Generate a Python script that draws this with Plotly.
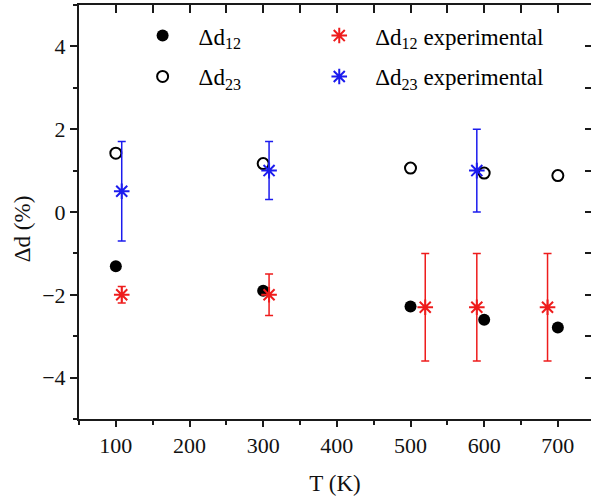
import plotly.graph_objects as go

# ---- data ----
T_calc = [100, 300, 500, 600, 700]
d12_calc = [-1.31, -1.90, -2.28, -2.60, -2.79]
d23_calc = [1.42, 1.17, 1.06, 0.94, 0.88]

T12_exp = [108, 308, 520, 590, 686]
d12_exp = [-2.0, -2.0, -2.3, -2.3, -2.3]
d12_err = [0.2, 0.5, 1.3, 1.3, 1.3]

T23_exp = [108, 308, 590]
d23_exp = [0.5, 1.0, 1.0]
d23_err = [1.2, 0.7, 1.0]

x_ticks = [100, 200, 300, 400, 500, 600, 700]
y_ticks = [-4, -2, 0, 2, 4]

FONT = "Liberation Serif, Times New Roman, serif"
AX = "#1a1a1a"
RED = "#ee1c1c"
BLUE = "#1c1cee"

fig = go.Figure()

fig.add_trace(go.Scatter(
    x=T_calc, y=d12_calc, mode="markers", name="Δd<sub>12</sub>",
    marker=dict(symbol="circle", size=12, color="black"),
    legend="legend", legendgroup="a"))
fig.add_trace(go.Scatter(
    x=T_calc, y=d23_calc, mode="markers", name="Δd<sub>23</sub>",
    marker=dict(symbol="circle-open", size=11, color="black", line=dict(width=2)),
    legend="legend", legendgroup="b"))
fig.add_trace(go.Scatter(
    x=T12_exp, y=d12_exp, mode="markers", name="Δd<sub>12</sub> experimental",
    marker=dict(symbol="asterisk-open", size=13, color=RED, line=dict(width=2, color=RED)),
    error_y=dict(type="data", array=d12_err, color=RED, thickness=1.5, width=4),
    legend="legend2", legendgroup="c"))
fig.add_trace(go.Scatter(
    x=T23_exp, y=d23_exp, mode="markers", name="Δd<sub>23</sub> experimental",
    marker=dict(symbol="asterisk-open", size=13, color=BLUE, line=dict(width=2, color=BLUE)),
    error_y=dict(type="data", array=d23_err, color=BLUE, thickness=1.5, width=4),
    legend="legend2", legendgroup="d"))

# invisible anchor trace for the mirrored (top/right) axes
fig.add_trace(go.Scatter(x=[None], y=[None], xaxis="x2", yaxis="y2",
                         showlegend=False, hoverinfo="skip"))

tickfont = dict(family=FONT, size=22, color="#111")
legfont = dict(family=FONT, size=23, color="black")

fig.update_layout(
    width=591, height=500,
    margin=dict(l=79, r=0, t=5, b=81),
    paper_bgcolor="white", plot_bgcolor="white",
    font=dict(family=FONT),
    showlegend=True,
    xaxis=dict(range=[50, 745], tickvals=x_ticks, ticks="outside", ticklen=6,
               tickwidth=1.5, tickcolor=AX, showline=True, linewidth=2, linecolor=AX,
               showgrid=False, zeroline=False, tickfont=tickfont,
               minor=dict(dtick=50, tick0=50, ticks="outside", ticklen=4,
                          tickwidth=1.5, tickcolor=AX, showgrid=False),
               title=dict(text="T (K)", font=dict(family=FONT, size=23, color="#111"),
                          standoff=17)),
    yaxis=dict(range=[-5, 5], tickvals=y_ticks, ticks="outside", ticklen=7,
               tickwidth=1.5, tickcolor=AX, showline=True, linewidth=2, linecolor=AX,
               showgrid=False, zeroline=False, tickfont=tickfont,
               minor=dict(dtick=1, tick0=-5, ticks="outside", ticklen=4,
                          tickwidth=1.5, tickcolor=AX, showgrid=False)),
    xaxis2=dict(overlaying="x", matches="x", side="top", anchor="y",
                tickvals=x_ticks, ticks="inside", ticklen=8, tickwidth=1.5, tickcolor=AX,
                showticklabels=False, showline=True, linewidth=2, linecolor=AX,
                showgrid=False, zeroline=False,
                minor=dict(dtick=50, tick0=50, ticks="inside", ticklen=8,
                           tickwidth=1.5, tickcolor=AX, showgrid=False)),
    yaxis2=dict(overlaying="y", matches="y", side="right", anchor="x",
                tickvals=y_ticks, ticks="inside", ticklen=6, tickwidth=1.5, tickcolor=AX,
                showticklabels=False, showline=False,
                showgrid=False, zeroline=False,
                minor=dict(dtick=1, tick0=-5, ticks="inside", ticklen=6,
                           tickwidth=1.5, tickcolor=AX, showgrid=False)),
    legend=dict(x=0.093, y=0.978, xanchor="left", yanchor="top",
                bgcolor="rgba(0,0,0,0)", font=legfont, itemwidth=62,
                traceorder="grouped", tracegroupgap=8),
    legend2=dict(x=0.438, y=0.978, xanchor="left", yanchor="top",
                 bgcolor="rgba(0,0,0,0)", font=legfont, itemwidth=62,
                 traceorder="grouped", tracegroupgap=8),
    annotations=[dict(text="Δd (%)", textangle=-90, xref="paper", yref="paper",
                      x=-0.109, y=0.459, xanchor="center", yanchor="middle",
                      showarrow=False, font=dict(family=FONT, size=23, color="#111"))],
)

fig.write_html("out.html")
